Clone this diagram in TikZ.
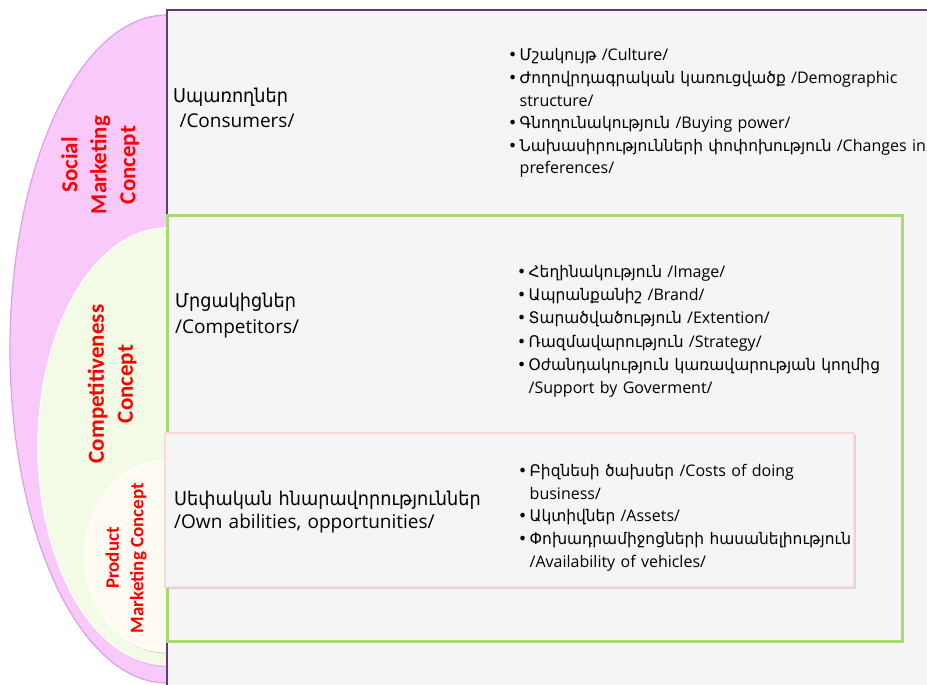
\documentclass[tikz,border=0pt]{standalone}
\usepackage{fontspec}
\setmainfont{Open Sans}
\newfontfamily\armfont[FakeStretch=0.965]{DejaVu Sans}
\newfontfamily\armtitlefont[FakeStretch=0.93]{DejaVu Sans}
\newfontfamily\lblfont{Carlito}
\usetikzlibrary{shadows}
% Armenian words
\newcommand\hy[1]{{\armfont #1}}
\newcommand\hyt[1]{{\armtitlefont #1}}
% one bullet item with hanging indent
\newcommand\bul[1]{\par\noindent\hangindent=11.5pt\hangafter=1\strut\makebox[11.5pt][l]{\armfont\textbullet}#1\par}
\definecolor{pinkfill}{HTML}{F9CAF9}
\definecolor{pinkrim}{HTML}{D3A4E4}
\definecolor{greenfill}{HTML}{F3FBE6}
\definecolor{creamfill}{HTML}{FFFBF3}
\definecolor{panel}{HTML}{F5F5F5}
\definecolor{purpleedge}{HTML}{5F3B73}
\definecolor{greenedge}{HTML}{A8DA73}
\definecolor{pinkedge}{HTML}{F8DADA}
\tikzset{
  halfoval/.style={line width=1.2pt},
  panelbox/.style={fill=panel},
  lbl/.style={rotate=90, align=center, text=red, inner sep=0pt},
  title/.style={anchor=north west, inner sep=0pt, text width=340pt, align=left,
    font=\fontsize{19}{25.5}\selectfont},
  blist/.style={anchor=north west, inner sep=0pt, text width=480pt, align=left},
  softshadow/.style={drop shadow={shadow xshift=1.5pt, shadow yshift=-1.8pt, opacity=0.28}}
}
\begin{document}
\begin{tikzpicture}[x=1pt, y=-1pt]
\useasboundingbox (0,0) rectangle (927,685);
\clip (0,0) rectangle (927,685);
\fill[white] (0,0) rectangle (927,685);

% nested concept ovals
\path[halfoval, fill=pinkfill, draw=pinkrim] (167,349) ellipse [x radius=157, y radius=334];
\path[halfoval, fill=greenfill, draw=white, softshadow] (167,446.5) ellipse [x radius=129, y radius=218.5];
\path[halfoval, fill=creamfill, draw=white, softshadow] (167,556) ellipse [x radius=82, y radius=96];

% panels
\path[panelbox, draw=purpleedge, line width=2.5pt] (167,10) rectangle (940,700);
\path[panelbox, draw=greenedge, line width=3pt, softshadow] (167,215) rectangle (902,641);
\path[panelbox, draw=pinkedge, line width=2pt, softshadow] (165,433) rectangle (854,587);

% concept labels
\node[lbl, font=\lblfont\bfseries\fontsize{23}{29}\selectfont] (social) at (100,165) {Social\\Marketing\\Concept};
\node[lbl, font=\lblfont\bfseries\fontsize{23}{29}\selectfont] (compet) at (112,384) {Competitiveness\\Concept};
\node[lbl, font=\lblfont\bfseries\fontsize{19}{24.5}\selectfont] (product) at (126,558) {Product\\Marketing Concept};

% panel titles
\node[title] (consumers) at (173,84.2) {\strut\hyt{Սպառողներ}\par\strut\ /Consumers/};
\node[title, font=\fontsize{19}{26}\selectfont] (competitors) at (175,288.8) {\strut\hyt{Մրցակիցներ}\par\strut /Competitors/};
\node[title, font=\fontsize{19}{23}\selectfont] (own) at (174,488.9) {\strut\hyt{Սեփական հնարավորություններ}\par\strut /Own abilities, opportunities/};

% factor lists
\node[blist, font=\fontsize{16}{22.6}\selectfont] (list1) at (508,38.2) {%
\bul{\hy{Մշակույթ} /Culture/}%
\bul{\hy{Ժողովրդագրական կառուցվածք} /Demographic\hfil\break structure/}%
\bul{\hy{Գնողունակություն} /Buying power/}%
\bul{\hy{Նախասիրությունների փոփոխություն} /Changes in\hfil\break preferences/}};

\node[blist, font=\fontsize{16}{23.2}\selectfont] (list2) at (517,254) {%
\bul{\hy{Հեղինակություն} /Image/}%
\bul{\hy{Ապրանքանիշ} /Brand/}%
\bul{\hy{Տարածվածություն} /Extention/}%
\bul{\hy{Ռազմավարություն} /Strategy/}%
\bul{\hy{Օժանդակություն կառավարության կողմից}\hfil\break /Support by Goverment/}};

\node[blist, font=\fontsize{16}{22.75}\selectfont] (list3) at (518,453.5) {%
\bul{\hy{Բիզնեսի ծախսեր} /Costs of doing\hfil\break business/}%
\bul{\hy{Ակտիվներ} /Assets/}%
\bul{\hy{Փոխադրամիջոցների հասանելիություն}\hfil\break /Availability of vehicles/}};
\end{tikzpicture}
\end{document}
